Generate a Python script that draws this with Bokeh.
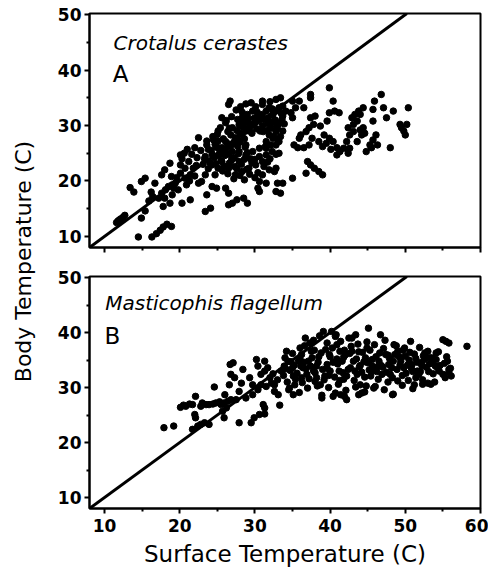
import math
from bokeh.plotting import figure
from bokeh.layouts import row, column
from bokeh.models import Range1d, FixedTicker, Label, Slope
from bokeh.embed import file_html
from bokeh.resources import INLINE

# ---------------- data ----------------
x_ticks = [10, 20, 30, 40, 50, 60]
x_minor = [15, 25, 35, 45, 55]
y_ticks = [10, 20, 30, 40, 50]
y_minor = [15, 25, 35, 45]

# Panel A: Crotalus cerastes (surface temp, body temp)
crot_pts = [
    (11.6,12.5),(11.8,12.8),(12.0,13.0),(12.2,13.2),(12.5,13.5),(12.7,13.8),(14.9,13.3),(15.4,14.6),
    (13.4,18.8),(13.9,18.0),(14.9,19.9),(15.4,20.5),(14.5,9.9),(16.3,9.9),(16.9,10.5),(17.4,11.1),
    (17.8,11.7),(18.3,12.2),(18.9,11.8),(17.8,15.4),(16.7,19.6),(17.6,21.1),(18.0,22.0),(18.7,23.2),
    (17.2,16.9),(17.6,17.8),(18.1,18.4),(18.5,19.0),(19.0,19.3),(19.2,18.7),(19.4,19.6),(19.8,18.4),
    (18.0,16.9),(18.7,16.0),(19.0,17.5),(20.1,24.7),(20.3,24.0),(20.6,25.0),(20.1,22.9),(20.7,22.3),
    (21.2,23.5),(21.4,21.1),(20.7,20.5),(20.1,21.4),(22.0,20.9),(22.5,19.6),(22.9,19.9),(23.4,21.1),
    (21.8,22.3),(22.3,24.2),(22.0,26.0),(23.4,24.4),(22.5,27.8),(20.3,16.0),(21.4,16.6),(23.4,14.5),
    (24.1,15.1),(23.6,17.5),(24.3,19.0),(24.9,18.7),(26.1,18.7),(26.5,17.8),(26.5,15.7),(27.0,16.0),
    (27.6,16.6),(28.5,16.9),(29.0,16.0),
    (24.7,26.6),(25.1,27.2),(25.6,26.0),(26.1,25.4),(26.5,24.8),(27.0,26.6),(27.4,27.8),(27.9,27.2),
    (28.3,28.4),(28.8,29.0),(29.2,29.6),(29.7,30.2),(30.1,30.8),(30.6,31.4),(31.0,32.0),(31.5,32.6),
    (31.9,33.2),(32.4,32.0),(32.8,32.6),(33.2,33.2),(33.7,33.5),(34.1,32.6),(33.7,31.7),
    (26.5,33.8),(26.7,34.4),(25.6,31.4),(26.1,30.5),(25.1,29.0),(27.0,29.6),(27.9,30.2),(28.3,31.4),
    (29.0,32.0),(29.7,32.6),(31.0,34.4),(32.8,34.7),(33.4,35.0),
    (27.0,24.1),(27.9,23.5),(28.8,24.7),(29.7,25.3),(30.6,25.9),(31.5,24.7),(31.0,23.5),(30.1,22.9),
    (29.2,22.3),(28.3,21.7),(27.4,21.1),(26.5,22.3),(25.6,23.5),(25.1,22.3),(24.7,21.1),(24.3,22.9),
    (31.5,27.1),(31.9,28.3),(32.4,27.7),(32.8,28.9),(32.1,26.5),(31.5,25.9),
    (28.8,26.5),(27.9,25.3),(27.0,25.3),(26.1,27.1),(25.1,26.0),(24.3,24.8),(23.8,25.7),(23.6,26.5),
    (32.8,26.5),(33.2,27.1),(33.4,28.0),(33.0,29.6),(33.7,29.0),(32.8,24.8),(33.2,25.0),(32.8,22.3),
    (32.6,21.7),(30.6,19.9),(31.5,19.6),(30.4,18.7),(30.6,18.1),(33.0,19.6),(33.7,19.6),(32.8,18.1),
    (33.4,17.8),(35.0,20.5),(31.0,21.1),
    (35.0,31.4),(34.8,32.3),(35.4,33.2),(35.0,34.4),(35.9,34.4),(37.4,35.0),(37.4,35.6),(36.5,33.2),
    (35.9,27.7),(35.7,26.0),(35.2,26.5),(36.1,28.3),(36.8,28.9),(36.5,26.0),(37.2,26.5),(37.6,27.7),
    (37.2,29.6),(37.8,30.2),(37.4,31.4),(38.0,31.7),(37.0,23.5),(37.4,22.9),(37.9,22.3),(38.5,21.7),
    (39.0,21.1),(36.8,21.4),(38.5,27.1),(39.0,26.2),(39.5,26.8),(39.9,27.7),(40.4,27.1),(40.9,26.0),
    (40.1,25.7),(39.2,28.3),(38.7,29.9),(39.6,30.8),(39.9,32.3),(40.4,34.4),(39.9,36.8),(40.6,32.6),
    (41.2,32.3),(40.9,24.7),(41.3,25.3),(41.8,25.9),(42.2,27.1),(42.6,28.3),(42.4,29.6),(43.1,30.2),
    (43.6,30.8),(43.3,32.0),(42.9,31.4),(43.8,32.6),(43.1,28.9),(44.0,29.2),(44.4,29.6),(44.2,28.3),
    (44.6,28.6),(43.6,27.1),(42.6,25.9),(42.4,25.0),(44.8,25.3),(45.3,26.5),(45.7,27.4),(45.5,26.0),
    (46.3,26.5),(46.1,28.3),(45.7,30.8),(45.9,34.4),(45.7,32.9),(46.8,35.6),(47.1,33.2),(47.5,31.4),
    (48.0,26.0),(48.4,32.6),(49.3,30.2),(49.8,29.0),(50.2,30.2),(50.0,28.3),(50.4,33.2),(49.5,29.6),
    (44.4,33.2),(44.0,32.0),
    (24.2,25.5),(24.6,24.2),(24.9,26.1),(25.3,25.0),(25.5,23.6),(25.8,27.6),(26.0,24.6),(26.3,26.8),
    (26.6,23.2),(26.8,28.3),(27.3,22.6),(27.6,29.1),(27.8,24.9),(28.0,27.0),(28.2,23.0),(28.5,30.4),
    (28.7,26.1),(28.9,22.1),(29.1,31.2),(29.4,24.0),(29.6,28.6),(30.0,23.9),(30.2,29.4),(30.4,31.9),
    (30.6,24.4),(31.0,30.0),(31.2,22.6),(31.4,26.2),(31.6,29.1),(31.8,31.3),(32.0,24.0),(32.2,30.5),
    (32.5,28.0),(32.7,31.0),(33.0,27.5),(33.3,30.4),(33.6,31.1),
    (25.0,28.4),(25.4,29.6),(26.2,30.9),(26.9,31.6),(27.5,32.8),(28.1,33.4),(28.8,33.9),(29.5,34.1),
    (30.1,33.4),(31.0,33.8),(32.0,34.3),(25.7,21.8),(26.4,21.3),(27.2,20.4),(28.0,21.0),(28.6,20.2),
    (29.3,21.2),(30.0,20.6),(24.0,23.3),(23.8,22.2),(23.1,23.0),(24.4,28.0),(23.6,27.2),(21.0,25.7),
    (21.6,24.8),(22.8,25.5),(19.6,20.6),(18.9,20.8),(16.4,17.2),(15.9,16.4),(16.2,18.0),
    (24.5,27.4),(25.2,24.6),(25.9,25.3),(26.4,28.9),(26.7,26.2),(27.2,27.0),(27.7,26.3),(28.0,28.6),
    (28.4,29.7),(28.6,27.6),(29.0,30.6),(29.3,29.0),(29.9,31.3),(30.3,32.4),(30.7,29.0),(31.1,28.9),
    (31.3,31.1),(31.7,30.3),(32.1,29.5),(32.3,33.0),(32.9,29.9),(33.5,32.2),(33.9,30.3),(27.7,31.1),
    (28.3,32.4),(26.6,29.5),(25.9,22.7),(26.9,23.8),(27.6,22.2),(28.6,23.9),(29.6,23.3),(30.4,21.5),
    (31.7,23.4),(32.3,25.3),(31.9,22.0),(29.0,25.1),(27.3,24.2),(24.8,23.1),(23.3,24.0),(22.2,22.8),
    (21.3,20.0),(20.9,19.3),
]
crot_surface = [p[0] for p in crot_pts]
crot_body = [p[1] for p in crot_pts]

# Panel B: Masticophis flagellum (surface temp, body temp)
mast_pts = [
    (17.9,22.7),(19.2,23.0),(20.1,26.4),(20.5,26.8),(20.8,26.6),(21.3,27.0),(21.7,26.9),(22.1,28.4),
    (22.0,25.1),(22.1,24.5),(21.7,22.4),(22.4,23.0),(22.8,23.3),(23.3,23.6),(23.9,23.3),
    (22.8,26.6),(23.0,27.2),(23.5,26.9),(23.9,26.9),(24.4,27.0),(24.8,27.2),(25.3,27.4),(25.5,26.9),
    (25.9,27.2),(26.4,27.5),(26.8,27.8),(26.2,26.3),(25.7,25.7),(25.9,24.5),(24.6,30.1),
    (26.0,28.7),(26.6,30.5),(26.8,32.4),(26.7,34.2),(27.1,34.5),(27.3,31.8),(27.9,29.3),(27.5,27.8),
    (28.2,30.8),(28.4,33.3),(27.9,23.6),(29.5,23.6),(29.9,24.5),(30.6,25.1),(31.3,25.2),(31.1,26.9),
    (31.3,26.3),(33.3,26.8),(29.7,30.5),(29.3,31.8),
    (28.8,28.1),(29.7,28.7),(30.4,29.6),(30.8,30.5),(31.5,30.2),(32.2,30.8),(30.2,35.1),(30.4,33.9),
    (31.3,34.8),(30.8,32.4),(31.3,33.0),(31.7,33.6),(32.0,31.8),(32.6,29.3),(33.1,28.7),(32.6,30.5),
    (33.5,33.0),(33.9,33.9),(34.4,34.8),(34.2,36.6),(35.0,33.6),(35.1,32.1),(35.3,30.5),(35.1,28.7),
    (34.6,29.9),(35.8,34.8),(36.2,36.0),(36.0,37.2),(36.7,39.0),(37.3,38.1),(37.5,36.6),(37.1,34.8),
    (36.4,33.6),(36.9,32.4),(36.2,31.8),(37.8,33.0),(38.2,33.9),(38.0,31.1),(38.7,30.5),(38.9,28.1),
    (39.1,40.2),(39.6,38.1),(39.9,36.0),(39.6,34.2),(40.0,33.0),(39.3,32.1),(40.2,40.2),(40.7,39.3),
    (40.9,37.8),(40.7,29.0),(40.4,28.4),(41.3,36.6),(41.6,34.8),(41.2,33.0),(41.8,31.5),(42.5,39.0),
    (42.2,27.8),(43.4,39.6),(42.9,36.6),(43.1,34.8),(42.7,33.6),(43.6,32.4),(43.8,28.7),(44.2,29.0),
    (44.0,30.5),(44.7,35.4),(44.9,37.2),(45.1,40.8),(45.4,32.1),(45.8,29.9),(45.6,33.9),(46.5,34.8),
    (46.7,39.6),(46.9,32.4),(47.4,36.0),(47.8,34.2),(48.3,31.8),(48.3,28.7),(48.5,37.8),(49.0,36.6),
    (49.4,34.8),(49.8,33.6),(50.0,35.7),(50.7,38.4),(50.9,34.2),(51.2,30.5),(51.4,31.8),(51.6,33.0),
    (51.8,32.4),(52.1,34.5),(52.5,35.1),(53.0,36.6),(53.2,35.4),(53.0,30.8),(53.6,34.5),(54.1,36.3),
    (54.3,33.6),(54.5,33.0),(55.0,38.7),(55.4,38.4),(55.8,38.1),(55.6,34.8),(55.8,33.3),(56.1,32.1),
    (58.2,37.5),(55.8,32.8),
    (33.8,32.2),(34.3,31.0),(34.7,33.1),(35.2,34.0),(35.6,32.6),(36.0,35.1),(36.3,30.9),(36.8,33.4),
    (37.2,31.6),(37.6,35.4),(38.0,32.7),(38.4,34.6),(38.8,36.3),(39.2,31.4),(39.6,33.5),(40.0,35.6),
    (40.3,37.2),(40.6,31.9),(41.0,34.3),(41.4,38.4),(41.7,32.7),(42.0,35.9),(42.4,33.3),(42.8,37.5),
    (43.2,31.3),(43.5,35.2),(43.9,33.8),(44.3,36.4),(44.6,31.9),(45.0,34.5),(45.3,36.8),(45.7,33.1),
    (46.1,35.6),(46.4,31.5),(46.8,34.0),(47.1,37.1),(47.5,32.8),(47.9,35.3),(48.2,33.6),(48.6,36.0),
    (49.0,31.2),(49.3,34.1),(49.7,36.8),(50.1,32.6),(50.5,35.0),(50.8,33.5),(51.2,36.1),(51.6,34.6),
    (52.0,32.9),(52.4,35.8),(52.8,33.7),(53.2,34.3),(53.7,32.5),(54.1,35.1),(54.6,34.0),(55.0,32.4),
    (55.5,35.6),(56.0,33.5),
    (34.0,35.4),(35.0,36.2),(36.6,37.6),(37.8,38.6),(38.6,39.4),(39.4,36.9),(40.8,39.6),(41.9,36.8),
    (42.9,39.0),(43.7,37.9),(44.9,38.3),(45.9,37.8),(47.3,38.6),(48.8,37.6),(49.9,37.2),(51.9,37.3),
    (37.0,29.9),(38.3,30.3),(39.8,30.0),(41.1,30.6),(42.1,29.5),(43.4,30.1),(44.8,30.3),(46.0,30.2),
    (47.2,29.6),(49.6,30.4),(51.0,29.8),(52.3,31.4),(53.9,31.0),(55.3,31.8),
    (34.5,29.6),(35.9,29.1),(38.9,28.6),(41.4,28.7),(41.9,28.4),(44.6,29.2),(48.4,28.8),(52.3,30.6),
    (53.4,30.6),
    (34.8,34.7),(35.4,31.5),(36.5,34.6),(37.4,33.9),(38.5,35.6),(39.0,33.3),(39.8,32.2),(40.4,34.6),
    (41.3,31.3),(41.8,35.5),(42.2,32.1),(42.6,36.2),(43.3,33.0),(43.8,36.5),(44.2,32.8),(44.5,34.7),
    (45.2,33.2),(45.6,35.1),(46.2,32.9),(46.6,36.3),(47.0,33.7),(47.7,35.9),(48.0,32.4),(48.4,34.8),
    (48.9,33.3),(49.2,35.6),(49.6,32.2),(50.3,34.1),(50.6,36.4),(51.0,32.9),(51.4,35.3),(52.2,34.0),
    (52.6,36.3),(53.1,32.9),(53.5,35.4),(54.0,33.9),(54.4,36.5),(55.2,34.4),(33.0,31.4),(32.4,32.5),
    (34.1,33.4),(36.1,33.9),(37.9,36.8),(38.2,31.8),(40.9,35.2),(44.0,34.0),(46.3,33.8),(47.7,31.0),
    (50.4,31.3),
]
mast_surface = [p[0] for p in mast_pts]
mast_body = [p[1] for p in mast_pts]

FONT = "DejaVu Sans"


def make_panel(xs, ys, title, letter, title_xy, letter_xy, show_x_labels, frame_h, b_top, b_bottom):
    p = figure(frame_width=391, frame_height=frame_h, output_backend="svg", toolbar_location=None,
               x_range=Range1d(8, 60), y_range=Range1d(8, 50.2),
               min_border_left=51, min_border_right=8, min_border_top=b_top, min_border_bottom=b_bottom)
    p.grid.visible = False
    p.outline_line_color = "black"
    p.outline_line_width = 2
    p.background_fill_color = "white"
    p.border_fill_color = "white"
    for ax, ticks, minor in ((p.xaxis, x_ticks, x_minor), (p.yaxis, y_ticks, y_minor)):
        ax.ticker = FixedTicker(ticks=ticks, minor_ticks=minor)
        ax.axis_line_width = 2
        ax.axis_line_color = "black"
        ax.major_tick_line_width = 2
        ax.major_tick_out = 5
        ax.major_tick_in = 0
        ax.minor_tick_line_width = 2
        ax.minor_tick_out = 3
        ax.minor_tick_in = 0
        ax.major_label_text_font = FONT
        ax.major_label_text_font_style = "bold"
        ax.major_label_text_font_size = "17px"
        ax.major_label_text_color = "black"
    p.yaxis.major_label_standoff = 3
    p.xaxis.major_label_standoff = 5
    if show_x_labels:
        p.xaxis.axis_label = "Surface Temperature (C)"
        p.xaxis.axis_label_text_font = FONT
        p.xaxis.axis_label_text_font_style = "normal"
        p.xaxis.axis_label_text_font_size = "23px"
        p.xaxis.axis_label_text_color = "black"
        p.xaxis.axis_label_standoff = 6
    else:
        p.xaxis.major_label_text_color = None
    p.add_layout(Slope(gradient=1, y_intercept=0, line_color="black", line_width=3))
    p.scatter(xs, ys, size=6.5, color="black", line_color="black")
    p.add_layout(Label(x=title_xy[0], y=title_xy[1], text=title, text_font=FONT,
                       text_font_style="italic", text_font_size="20px", text_color="black",
                       text_baseline="alphabetic"))
    p.add_layout(Label(x=letter_xy[0], y=letter_xy[1], text=letter, text_font=FONT,
                       text_font_size="23px", text_color="black", text_baseline="alphabetic"))
    return p


p1 = make_panel(crot_surface, crot_body, "Crotalus cerastes", "A", (11.2, 44.9), (11.1, 39.3),
                False, 234, 13, 15)
p2 = make_panel(mast_surface, mast_body, "Masticophis flagellum", "B", (10.1, 45.3), (10.0, 39.3),
                True, 232, 14, 59)

lab = figure(width=38, height=567, output_backend="svg", toolbar_location=None,
             x_range=Range1d(0, 38), y_range=Range1d(0, 567), min_border=0)
lab.xaxis.visible = False
lab.yaxis.visible = False
lab.grid.visible = False
lab.outline_line_color = None
lab.add_layout(Label(x=23, y=306, text="Body Temperature (C)", angle=math.pi / 2,
                     text_align="center", text_baseline="middle", text_font=FONT,
                     text_font_size="22px", text_color="black"))

layout = row(lab, column(p1, p2))
open("out.html", "w").write(file_html(layout, INLINE))
